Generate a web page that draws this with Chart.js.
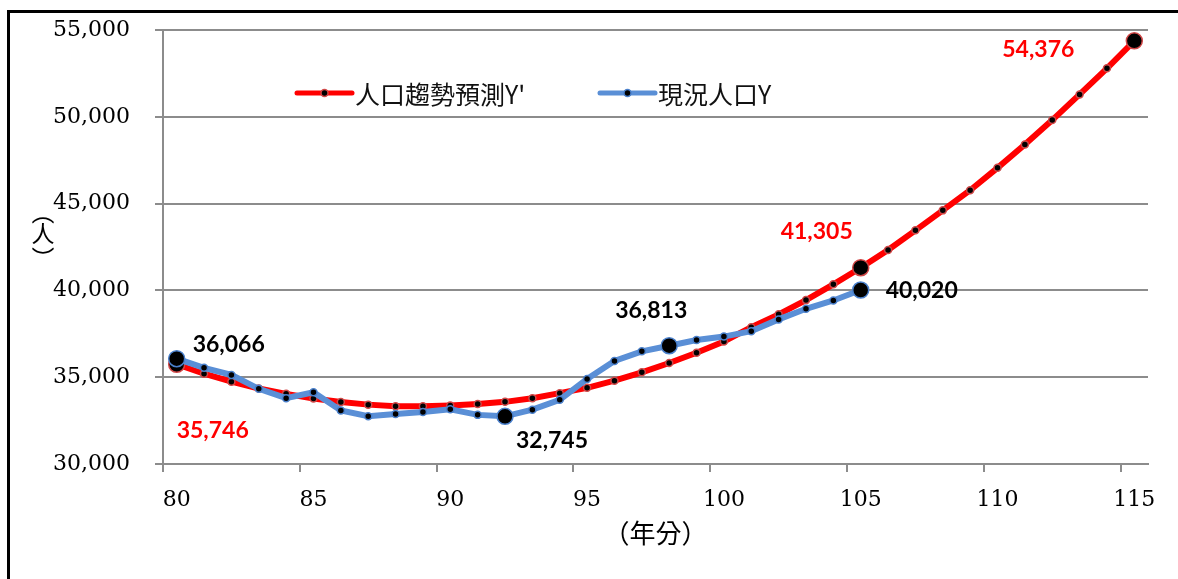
<!DOCTYPE html>
<html>
<head>
<meta charset="utf-8">
<script src="https://cdn.jsdelivr.net/npm/chart.js@4.4.0/dist/chart.umd.min.js"></script>
<style>
  html, body { margin:0; padding:0; background:#fff; }
  #wrap { position:relative; width:1178px; height:579px; overflow:hidden; }
  #frame { position:absolute; left:7px; top:10px; width:1200px; height:600px; border-left:3px solid #000; border-top:3px solid #000; pointer-events:none; }
  canvas { position:absolute; left:0; top:0; }
</style>
</head>
<body>
<div id="wrap">
  <canvas id="popChart" width="1178" height="579"></canvas>
  <div id="frame"></div>
</div>
<script>
// ── 人口趨勢 chart ──
const years = ['80','81','82','83','84','85','86','87','88','89','90','91','92','93','94','95','96','97',
  '98','99','100','101','102','103','104','105','106','107','108','109','110','111','112','113','114','115'];

// 人口趨勢預測Y' (80-115)
const trendPop = [35746, 35200, 34740, 34350, 34040, 33770, 33570, 33420, 33330, 33320, 33370, 33450,
  33580, 33790, 34080, 34390, 34800, 35280, 35820, 36410, 37060, 37880, 38620, 39440, 40350, 41305,
  42330, 43460, 44610, 45770, 47060, 48400, 49810, 51290, 52790, 54376];

// 現況人口Y (80-105)
const actualPop = [36066, 35540, 35130, 34330, 33790, 34130, 33080, 32750, 32880, 33000, 33150, 32830,
  32745, 33130, 33700, 34900, 35940, 36490, 36813, 37140, 37340, 37650, 38330, 38940, 39420, 40020];

const seriesNames = ["人口趨勢預測Y'", '現況人口Y'];
const trendLabelIdx = [0, 25, 35];
const actualLabelIdx = [0, 12, 18, 25];

const yTicks = { min: 30000, max: 55000, step: 5000 };

const RED = '#ff0000';
const BLUE = '#5a8fd6';
const GRID = '#8c8c8c';

const fmt = n => n.toLocaleString('en-US');

// label offsets from the point (style only)
const labelStyle = {
  '0-0':  { dx: 36,  dy: 66,  color: RED },
  '0-25': { dx: -44, dy: -36, color: RED },
  '0-35': { dx: -96, dy: 9,   color: RED },
  '1-0':  { dx: 52,  dy: -14, color: '#000' },
  '1-12': { dx: 47,  dy: 24,  color: '#000' },
  '1-18': { dx: -18, dy: -35, color: '#000' },
  '1-25': { dx: 61,  dy: 1,   color: '#000' },
};

const pointLabels = {
  id: 'pointLabels',
  afterDatasetsDraw(chart) {
    const ctx = chart.ctx;
    ctx.save();
    ctx.font = 'bold 23px Lato, "Open Sans", sans-serif';
    ctx.textAlign = 'center';
    ctx.textBaseline = 'middle';
    [trendLabelIdx, actualLabelIdx].forEach((idxs, d) => {
      const meta = chart.getDatasetMeta(d);
      idxs.forEach(i => {
        const st = labelStyle[d + '-' + i];
        const el = meta.data[i];
        ctx.fillStyle = st.color;
        ctx.fillText(fmt(chart.data.datasets[d].data[i]), el.x + st.dx, el.y + st.dy);
      });
    });
    ctx.restore();
  }
};

const innerLegend = {
  id: 'innerLegend',
  afterDraw(chart) {
    const ctx = chart.ctx;
    const items = [{ x: 297 }, { x: 600 }];
    const y = 93;
    ctx.save();
    chart.data.datasets.forEach((ds, d) => {
      const x0 = items[d].x, x1 = x0 + 55;
      ctx.strokeStyle = ds.borderColor;
      ctx.lineWidth = 5;
      ctx.lineCap = 'round';
      ctx.beginPath(); ctx.moveTo(x0, y); ctx.lineTo(x1, y); ctx.stroke();
      ctx.beginPath(); ctx.arc((x0 + x1) / 2, y, 3.5, 0, Math.PI * 2);
      ctx.fillStyle = '#000'; ctx.fill();
      ctx.lineWidth = 1.5; ctx.strokeStyle = ds.pointBorderColor; ctx.stroke();
      ctx.fillStyle = '#111';
      ctx.font = '25px "Noto Sans CJK TC", sans-serif';
      ctx.textAlign = 'left';
      ctx.textBaseline = 'middle';
      ctx.fillText(ds.label, x1 + 3, y + 1);
    });
    ctx.restore();
  }
};

const yTitle = {
  id: 'yTitle',
  afterDraw(chart) {
    const ctx = chart.ctx;
    ctx.save();
    ctx.fillStyle = '#000';
    ctx.font = '23px "Noto Sans CJK TC", sans-serif';
    ctx.textAlign = 'center';
    ctx.textBaseline = 'middle';
    ctx.fillText('︵', 43, 212);
    ctx.fillText('人', 43, 233);
    ctx.fillText('︶', 43, 258);
    ctx.restore();
  }
};

const bigOr = (idxs, big, small) => c => idxs.includes(c.dataIndex) ? big : small;

new Chart(document.getElementById('popChart'), {
  type: 'line',
  data: {
    labels: years,
    datasets: [
      { label: seriesNames[0], data: trendPop, borderColor: RED, borderWidth: 6, order: 2,
        pointBackgroundColor: '#000', pointBorderColor: '#d04848', pointBorderWidth: 1.5,
        pointRadius: bigOr(trendLabelIdx, 8, 3.5), tension: 0 },
      { label: seriesNames[1], data: actualPop, borderColor: BLUE, borderWidth: 6, order: 1,
        pointBackgroundColor: '#000', pointBorderColor: '#4a80cc', pointBorderWidth: 1.5,
        pointRadius: bigOr(actualLabelIdx, 8, 3.5), tension: 0 }
    ]
  },
  options: {
    responsive: false,
    animation: false,
    devicePixelRatio: 1,
    layout: { padding: { left: 0, right: 30, top: 30, bottom: 0 } },
    plugins: { legend: { display: false }, tooltip: { enabled: false } },
    scales: {
      x: {
        type: 'category',
        offset: true,
        afterFit: s => { s.height = 115; s.paddingLeft = 0; s.paddingRight = 0; },
        grid: {
          offset: true, drawOnChartArea: false, tickLength: 8, lineWidth: 2,
          color: c => (c.index % 5 === 0 ? GRID : 'rgba(0,0,0,0)')
        },
        border: { display: true, color: GRID, width: 2 },
        ticks: {
          autoSkip: false, maxRotation: 0, padding: 15, color: '#000',
          font: { family: '"DejaVu Serif", serif', size: 22 },
          callback: (v, i) => (i % 5 === 0 ? years[i] : '')
        },
        title: {
          display: true, text: '（年分）', color: '#000',
          font: { family: '"Noto Sans CJK TC", sans-serif', size: 26 },
          padding: { top: 0, bottom: 30 }
        }
      },
      y: {
        min: yTicks.min, max: yTicks.max,
        afterFit: s => { s.width = 163; s.paddingTop = 0; s.paddingBottom = 0; },
        grid: { color: GRID, lineWidth: 2, tickLength: 8 },
        border: { display: true, color: GRID, width: 2 },
        ticks: {
          stepSize: yTicks.step, padding: 25, color: '#000',
          font: { family: '"DejaVu Serif", serif', size: 22 },
          callback: v => fmt(v)
        }
      }
    }
  },
  plugins: [pointLabels, innerLegend, yTitle]
});
</script>
</body>
</html>
